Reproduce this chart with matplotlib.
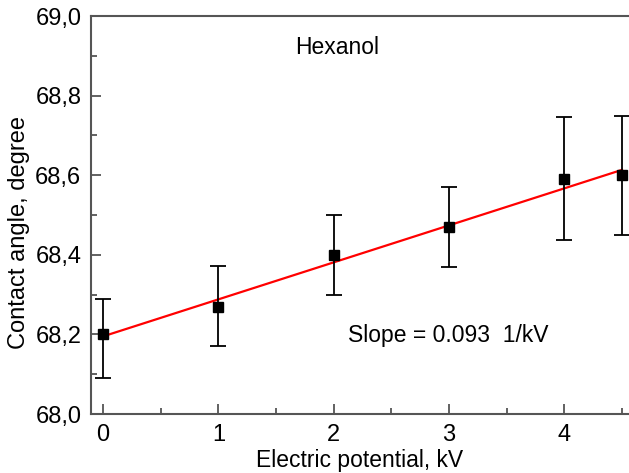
import numpy as np
import matplotlib
matplotlib.use("Agg")
import matplotlib.pyplot as plt
from matplotlib.ticker import FixedLocator, MultipleLocator, FuncFormatter

plt.rcParams['font.family'] = ['Liberation Sans', 'DejaVu Sans']

# data
potential = [0, 1, 2, 3, 4, 4.5]
angle = [68.20, 68.27, 68.40, 68.47, 68.59, 68.60]
err_upper = [0.09, 0.103, 0.10, 0.10, 0.155, 0.15]
err_lower = [0.11, 0.098, 0.10, 0.10, 0.153, 0.15]
fit_intercept = 68.195
fit_slope = 0.093
fit_x = [0, 4.5]
title_text = "Hexanol"
slope_text = "Slope = 0.093  1/kV"

fig = plt.figure(figsize=(6.29, 4.73), dpi=100)
ax = fig.add_axes([91/629, 1-414/473, 1-91/629, (414-16)/473])

fx = np.array(fit_x)
ax.plot(fx, fit_intercept + fit_slope*fx, color='red', lw=1.6, zorder=2)
ax.errorbar(potential, angle, yerr=[err_lower, err_upper], fmt='s', color='black',
            ms=6.5, ecolor='black', elinewidth=1.3, capsize=5.5, capthick=1.3, zorder=3)

ax.set_xlim(-0.104, 4.56)
ax.set_ylim(68.0, 69.0)
ax.xaxis.set_major_locator(FixedLocator([0, 1, 2, 3, 4]))
ax.xaxis.set_minor_locator(MultipleLocator(0.5))
ax.yaxis.set_major_locator(MultipleLocator(0.2))
ax.yaxis.set_minor_locator(MultipleLocator(0.1))
ax.yaxis.set_major_formatter(FuncFormatter(lambda v, p: f"{v:.1f}".replace('.', ',')))

spc = '#555555'
for s in ['left', 'bottom', 'top']:
    ax.spines[s].set_color(spc)
    ax.spines[s].set_linewidth(1.5)
ax.spines['right'].set_visible(False)
ax.tick_params(which='both', direction='in', color=spc, width=1.3, labelsize=17,
               top=False, right=False)
ax.tick_params(which='major', length=7, pad=7)
ax.tick_params(which='minor', length=4)

ax.set_xlabel("Electric potential, kV", fontsize=16.5, labelpad=2)
ax.set_ylabel("Contact angle, degree", fontsize=17, labelpad=1)
ax.yaxis.set_label_coords(-0.113, 0.457)

ax.text(1.665, 68.92, title_text, fontsize=16.5, va='center', ha='left')
ax.text(2.125, 68.196, slope_text, fontsize=16.5, va='center', ha='left')

fig.savefig("out.png", dpi=100)
